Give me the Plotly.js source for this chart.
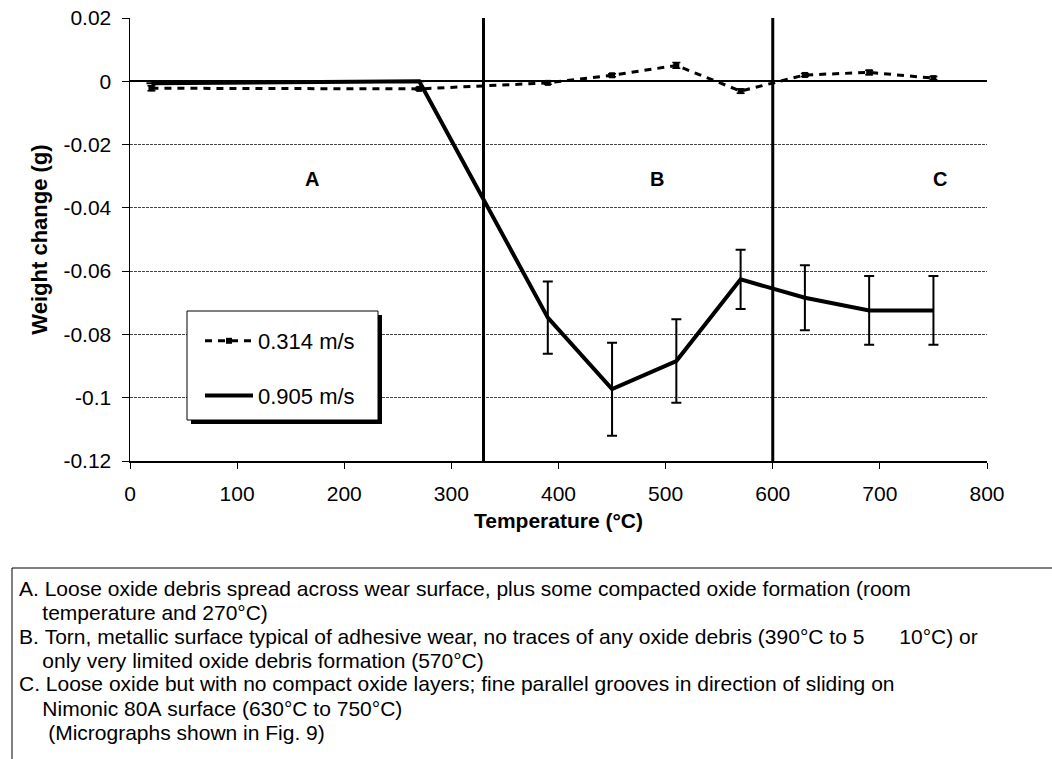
<!DOCTYPE html>
<html>
<head>
<meta charset="utf-8">
<script src="https://cdn.plot.ly/plotly-3.0.1.min.js"></script>
<style>
html,body{margin:0;padding:0;background:#fff;}
#chart{width:1052px;height:759px;}
</style>
</head>
<body>
<div id="chart"></div>
<script>
// ---- data ----
const temperatures = [20, 270, 390, 450, 510, 570, 630, 690, 750];
const slowSeriesName = '0.314 m/s';
const slowValues = [-0.0022, -0.0024, -0.0005, 0.0019, 0.0050, -0.0031, 0.0020, 0.0028, 0.0010];
const slowErrors = [0.0008, 0.0004, 0.0004, 0.0005, 0.0009, 0.0007, 0.0005, 0.0007, 0.0005];
const fastSeriesName = '0.905 m/s';
const fastValues = [-0.0006, 0.0000, -0.0747, -0.0973, -0.0884, -0.0626, -0.0684, -0.0724, -0.0724];
const fastErrors = [0, 0, 0.0114, 0.0147, 0.0132, 0.0094, 0.0103, 0.0109, 0.0109];
const regionBounds = [330, 600];
const regionLabels = ['A', 'B', 'C'];
const regionLabelX = [170, 492, 756];
const regionLabelY = [-0.031, -0.031, -0.031];
const xTickVals = [0, 100, 200, 300, 400, 500, 600, 700, 800];
const yTickVals = [0.02, 0, -0.02, -0.04, -0.06, -0.08, -0.1, -0.12];
const yTickText = ['0.02', '0', '-0.02', '-0.04', '-0.06', '-0.08', '-0.1', '-0.12'];
const xTitle = 'Temperature (°C)';
const yTitle = 'Weight change (g)';
const noteLines = [
  'A. Loose oxide debris spread across wear surface, plus some compacted oxide formation (room',
  '    temperature and 270°C)',
  'B. Torn, metallic surface typical of adhesive wear, no traces of any oxide debris (390°C to 5      10°C) or',
  '    only very limited oxide debris formation (570°C)',
  'C. Loose oxide but with no compact oxide layers; fine parallel grooves in direction of sliding on',
  '    Nimonic 80A surface (630°C to 750°C)',
  '     (Micrographs shown in Fig. 9)'
];

// ---- layout helpers (pixel -> paper) ----
const W = 1052, H = 759;
const M = {l: 130, r: 65, t: 18, b: 298};
const PW = W - M.l - M.r, PH = H - M.t - M.b;
const px = x => (x - M.l) / PW;
const py = y => (H - M.b - y) / PH;
const FONT = '"Liberation Sans", Arial, Helvetica, sans-serif';

const traces = [
  {
    x: temperatures, y: slowValues, name: slowSeriesName, type: 'scatter', mode: 'lines+markers',
    line: {color: '#000', width: 3, dash: '7px,6px'},
    marker: {symbol: 'square', size: 6, color: '#000'},
    error_y: {type: 'data', array: slowErrors, visible: true, color: '#000', thickness: 1.5, width: 4},
    legendgroup: 'a'
  },
  {
    x: temperatures, y: fastValues, name: fastSeriesName, type: 'scatter', mode: 'lines',
    line: {color: '#000', width: 4},
    error_y: {type: 'data', array: fastErrors, visible: true, color: '#000', thickness: 2, width: 5},
    legendgroup: 'b'
  }
];

const shapes = regionBounds.map(b => ({
  type: 'line', xref: 'x', yref: 'paper', x0: b, x1: b, y0: 0, y1: 1,
  line: {color: '#000', width: 3}, layer: 'above'
}));

// legend box shadow + frame (legend entries drawn by Plotly on top)
shapes.push({
  type: 'rect', xref: 'paper', yref: 'paper',
  x0: px(191), x1: px(382), y0: py(424), y1: py(315),
  fillcolor: '#000', line: {width: 0}, layer: 'above'
});
shapes.push({
  type: 'rect', xref: 'paper', yref: 'paper',
  x0: px(187), x1: px(378), y0: py(420), y1: py(311),
  fillcolor: '#fff', line: {color: '#000', width: 1}, layer: 'above'
});
// note box borders
shapes.push({type: 'line', xref: 'paper', yref: 'paper', x0: px(12), x1: px(1052), y0: py(568), y1: py(568), line: {color: '#000', width: 1}});
shapes.push({type: 'line', xref: 'paper', yref: 'paper', x0: px(12), x1: px(12), y0: py(568), y1: py(759), line: {color: '#000', width: 1}});

const annotations = regionLabels.map((t, i) => ({
  x: regionLabelX[i], y: regionLabelY[i], xref: 'x', yref: 'y', text: '<b>' + t + '</b>',
  showarrow: false, font: {family: FONT, size: 20, color: '#000'}
}));

const noteY = [588, 612, 636, 660, 684, 708, 732];
noteLines.forEach((t, i) => {
  annotations.push({
    xref: 'paper', yref: 'paper', x: px(18), y: py(noteY[i]), xanchor: 'left', yanchor: 'middle',
    text: t.replace(/ /g, '\u00a0'), showarrow: false, align: 'left', borderpad: 0,
    font: {family: FONT, size: 21, color: '#000'}
  });
});

const layout = {
  width: W, height: H,
  margin: M,
  paper_bgcolor: '#fff', plot_bgcolor: '#fff',
  font: {family: FONT, size: 21, color: '#000'},
  showlegend: true,
  legend: {
    x: px(200), y: py(320), xanchor: 'left', yanchor: 'top',
    bgcolor: 'rgba(0,0,0,0)', borderwidth: 0,
    font: {family: FONT, size: 22, color: '#000'},
    traceorder: 'grouped', tracegroupgap: 23, itemwidth: 48
  },
  xaxis: {
    range: [0, 800], tickvals: xTickVals, ticks: 'outside', ticklen: 6, tickcolor: '#000',
    showline: true, linecolor: '#000', linewidth: 1.5, showgrid: false, zeroline: false,
    tickfont: {family: FONT, size: 21, color: '#000'}, ticklabelstandoff: 7,
    title: {text: '<b>' + xTitle + '</b>', font: {family: FONT, size: 21, color: '#000'}, standoff: 9}
  },
  yaxis: {
    range: [-0.12, 0.02], tickvals: yTickVals, ticktext: yTickText, ticks: 'outside', ticklen: 7, tickcolor: '#000',
    showline: true, linecolor: '#000', linewidth: 1.5,
    showgrid: true, gridcolor: '#444', gridwidth: 1, griddash: '3px,1px',
    zeroline: true, zerolinecolor: '#000', zerolinewidth: 2,
    tickfont: {family: FONT, size: 21, color: '#000'}, ticklabelstandoff: 6,
    title: {text: '<b>' + yTitle + '</b>', font: {family: FONT, size: 22, color: '#000'}, standoff: 9}
  },
  shapes: shapes,
  annotations: annotations
};

Plotly.newPlot('chart', traces, layout, {displayModeBar: false, staticPlot: true});
</script>
</body>
</html>
